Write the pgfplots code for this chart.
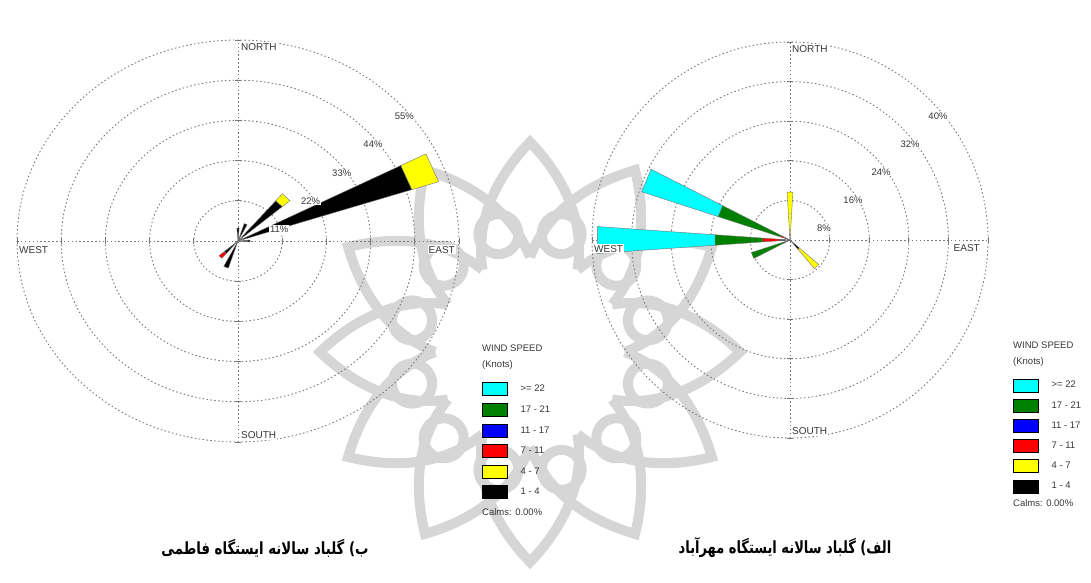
\documentclass[border=0pt]{standalone}
\usepackage{pgfplots}
\pgfplotsset{compat=1.18}
\usepackage{fontspec}
\setmainfont{Liberation Sans}
\newfontfamily\fafont[Script=Arabic]{DejaVu Sans}
\TeXXeTstate=1

% speed classes (knots)
\definecolor{ws22}{RGB}{0,255,255}
\definecolor{ws17}{RGB}{0,128,0}
\definecolor{ws11}{RGB}{0,0,255}
\definecolor{ws7}{RGB}{255,0,0}
\definecolor{ws4}{RGB}{255,255,0}
\definecolor{ws1}{RGB}{0,0,0}
\definecolor{ringgray}{RGB}{120,120,120}
\definecolor{labgray}{RGB}{55,55,55}
\definecolor{markgray}{RGB}{214,214,214}

\newcommand\smallfont{\fontsize{9.5}{11}\selectfont}

\tikzset{
  ring/.style={ringgray, line width=0.9pt, dash pattern=on 1.5pt off 2.4pt},
  ringlab/.style={fill=white, inner sep=0.8pt, font=\smallfont, text=labgray},
  compass/.style={fill=white, inner sep=1pt, font=\fontsize{10}{12}\selectfont, text=labgray},
}
\pgfplotsset{
  rose/.style={
    hide axis, clip=false, scale only axis, anchor=origin,
    legend image code/.code={\draw[##1,draw=black,line width=0.6pt] (0pt,-6.5pt) rectangle (25pt,6.5pt);},
    legend cell align=left,
    legend style={draw=none, fill=none, inner sep=0pt, outer sep=0pt,
      column sep=13pt, row sep=7pt, font=\smallfont, text=labgray,
      nodes={inner sep=0pt, outer sep=0pt}},
  },
  seg/.style={data cs=polar, fill=#1, draw=black!55, line width=0.4pt, forget plot},
}

\begin{document}
\begin{tikzpicture}[x=1pt,y=1pt]
\path[use as bounding box] (0,0) rectangle (1091,582);

% background rosette emblem
\begin{scope}[shift={(530,230)}, markgray, line width=10pt]
  \foreach \a in {90,120,...,420} {
    \draw (\a-30:95) .. controls (\a-22:150) and (\a-8:185) .. (\a:210)
                     .. controls (\a+8:185) and (\a+22:150) .. (\a+30:95);
  }
  \foreach \a in {105,135,...,435} {
    \draw (\a:122) circle (20);
  }
\end{scope}

% ---------------- Fatemi station ----------------
\begin{axis}[rose, x=4.018pt, y=3.655pt, xmin=-58, xmax=58, ymin=-58, ymax=58,
  at={(238pt,341pt)},
  legend style={at={(1.0235,0.1663)}, anchor=north west}]
  % grid
  \pgfplotsinvokeforeach{11,22,33,44,55}{
    \draw[ring] (axis cs:0,0) ellipse [x radius=#1, y radius=#1];
    \draw[ringgray, line width=0.7pt] (axis cs:#1,-0.9) -- (axis cs:#1,0.9);
    \draw[ringgray, line width=0.7pt] (axis cs:-#1,-0.9) -- (axis cs:-#1,0.9);
    \draw[ringgray, line width=0.7pt] (axis cs:-0.8,#1) -- (axis cs:0.8,#1);
    \draw[ringgray, line width=0.7pt] (axis cs:-0.8,-#1) -- (axis cs:0.8,-#1);
  }
  \draw[ring] (axis cs:-55,0) -- (axis cs:55,0);
  \draw[ring] (axis cs:0,-55) -- (axis cs:0,55);

  % petals: (math angle, percent)
  % ENE
  \addplot[seg=ws1] coordinates {(18,0) (27,0) (27,45.5) (18,45.5)} -- cycle;
  \addplot[seg=ws4] coordinates {(18,45.5) (27,45.5) (27,52.5) (18,52.5)} -- cycle;
  % NE
  \addplot[seg=ws1] coordinates {(40.5,0) (49.5,0) (49.5,14.5) (40.5,14.5)} -- cycle;
  \addplot[seg=ws4] coordinates {(40.5,14.5) (49.5,14.5) (49.5,17) (40.5,17)} -- cycle;
  % NNE
  \addplot[seg=ws1] coordinates {(63,0) (72,0) (72,5) (63,5)} -- cycle;
  % N
  \addplot[seg=ws1] coordinates {(85.5,0) (94.5,0) (94.5,3.5) (85.5,3.5)} -- cycle;
  % E
  \addplot[seg=ws1] coordinates {(-4.5,0) (4.5,0) (4.5,3) (-4.5,3)} -- cycle;
  % SW
  \addplot[seg=ws1] coordinates {(-139.5,0) (-130.5,0) (-130.5,4.5) (-139.5,4.5)} -- cycle;
  \addplot[seg=ws7] coordinates {(-139.5,4.5) (-130.5,4.5) (-130.5,6.2) (-139.5,6.2)} -- cycle;
  % SSW
  \addplot[seg=ws1] coordinates {(-117,0) (-108,0) (-108,7.8) (-117,7.8)} -- cycle;

  % ring labels
  \node[ringlab, xshift=10pt, yshift=-17pt] at (axis cs:7.78,7.78) {11\%};
  \node[ringlab, xshift=10pt, yshift=-17pt] at (axis cs:15.56,15.56) {22\%};
  \node[ringlab, xshift=10pt, yshift=-17pt] at (axis cs:23.33,23.33) {33\%};
  \node[ringlab, xshift=10pt, yshift=-17pt] at (axis cs:31.11,31.11) {44\%};
  \node[ringlab, xshift=10pt, yshift=-17pt] at (axis cs:38.89,38.89) {55\%};

  \node[compass, anchor=north west, xshift=2pt, yshift=-2pt] at (axis cs:0,55) {NORTH};
  \node[compass, anchor=south west, xshift=2pt, yshift=2pt] at (axis cs:0,-55) {SOUTH};
  \node[compass, anchor=north west, xshift=1pt, yshift=-4pt] at (axis cs:-55,0) {WEST};
  \node[compass, anchor=north east, xshift=-3pt, yshift=-4pt] at (axis cs:55,0) {EAST};

  \addlegendimage{fill=ws22}\addlegendentry{>= 22}
  \addlegendimage{fill=ws17}\addlegendentry{17 - 21}
  \addlegendimage{fill=ws11}\addlegendentry{11 - 17}
  \addlegendimage{fill=ws7}\addlegendentry{7 - 11}
  \addlegendimage{fill=ws4}\addlegendentry{4 - 7}
  \addlegendimage{fill=ws1}\addlegendentry{1 - 4}
\end{axis}

% ---------------- Mehrabad station ----------------
\begin{axis}[rose, x=4.95pt, y=4.95pt, xmin=-44, xmax=44, ymin=-44, ymax=44,
  at={(790pt,342pt)},
  legend style={at={(1.0119,0.182)}, anchor=north west, row sep=6.6pt}]
  \pgfplotsinvokeforeach{8,16,24,32,40}{
    \draw[ring] (axis cs:0,0) ellipse [x radius=#1, y radius=#1];
    \draw[ringgray, line width=0.7pt] (axis cs:#1,-0.7) -- (axis cs:#1,0.7);
    \draw[ringgray, line width=0.7pt] (axis cs:-#1,-0.7) -- (axis cs:-#1,0.7);
    \draw[ringgray, line width=0.7pt] (axis cs:-0.7,#1) -- (axis cs:0.7,#1);
    \draw[ringgray, line width=0.7pt] (axis cs:-0.7,-#1) -- (axis cs:0.7,-#1);
  }
  \draw[ring] (axis cs:-40,0) -- (axis cs:40,0);
  \draw[ring] (axis cs:0,-40) -- (axis cs:0,40);

  % WNW
  \addplot[seg=ws1] coordinates {(153,0) (162,0) (162,1) (153,1)} -- cycle;
  \addplot[seg=ws7] coordinates {(153,1) (162,1) (162,2) (153,2)} -- cycle;
  \addplot[seg=ws17] coordinates {(153,2) (162,2) (162,15.3) (153,15.3)} -- cycle;
  \addplot[seg=ws22] coordinates {(153,15.3) (162,15.3) (162,31.5) (153,31.5)} -- cycle;
  % W
  \addplot[seg=ws1] coordinates {(176,0) (184,0) (184,2.2) (176,2.2)} -- cycle;
  \addplot[seg=ws7] coordinates {(176,2.2) (184,2.2) (184,5.5) (176,5.5)} -- cycle;
  \addplot[seg=ws17] coordinates {(176,5.5) (184,5.5) (184,15.2) (176,15.2)} -- cycle;
  \addplot[seg=ws22] coordinates {(176,15.2) (184,15.2) (184,39) (176,39)} -- cycle;
  % WSW
  \addplot[seg=ws1] coordinates {(-162,0) (-153,0) (-153,1.5) (-162,1.5)} -- cycle;
  \addplot[seg=ws17] coordinates {(-162,1.5) (-153,1.5) (-153,8.2) (-162,8.2)} -- cycle;
  % N
  \addplot[seg=ws1] coordinates {(86.5,0) (93.5,0) (93.5,1) (86.5,1)} -- cycle;
  \addplot[seg=ws4] coordinates {(86.5,1) (93.5,1) (93.5,9.7) (86.5,9.7)} -- cycle;
  % SE
  \addplot[seg=ws1] coordinates {(-49.5,0) (-40.5,0) (-40.5,2.5) (-49.5,2.5)} -- cycle;
  \addplot[seg=ws4] coordinates {(-49.5,2.5) (-40.5,2.5) (-40.5,7.6) (-49.5,7.6)} -- cycle;

  \node[ringlab, xshift=6pt, yshift=-16pt] at (axis cs:5.66,5.66) {8\%};
  \node[ringlab, xshift=7pt, yshift=-16pt] at (axis cs:11.31,11.31) {16\%};
  \node[ringlab, xshift=7pt, yshift=-16pt] at (axis cs:16.97,16.97) {24\%};
  \node[ringlab, xshift=8pt, yshift=-16pt] at (axis cs:22.63,22.63) {32\%};
  \node[ringlab, xshift=8pt, yshift=-16pt] at (axis cs:28.28,28.28) {40\%};

  \node[compass, anchor=north west, xshift=1pt, yshift=-2pt] at (axis cs:0,40) {NORTH};
  \node[compass, anchor=south west, xshift=1pt, yshift=2pt] at (axis cs:0,-40) {SOUTH};
  \node[compass, anchor=north west, xshift=1pt, yshift=-4pt] at (axis cs:-40,0) {WEST};
  \node[compass, anchor=north east, xshift=-7pt, yshift=-3pt] at (axis cs:40,0) {EAST};

  \addlegendimage{fill=ws22}\addlegendentry{>= 22}
  \addlegendimage{fill=ws17}\addlegendentry{17 - 21}
  \addlegendimage{fill=ws11}\addlegendentry{11 - 17}
  \addlegendimage{fill=ws7}\addlegendentry{7 - 11}
  \addlegendimage{fill=ws4}\addlegendentry{4 - 7}
  \addlegendimage{fill=ws1}\addlegendentry{1 - 4}
\end{axis}

% legend headings and calms
\begin{scope}[every node/.style={anchor=west, inner sep=0pt, font=\smallfont, text=labgray}]
  \node at (482,234) {WIND SPEED};
  \node at (482,217) {(Knots)};
  \node at (482,70) {Calms: 0.00\%};
  \node at (1013,237) {WIND SPEED};
  \node at (1013,220) {(Knots)};
  \node at (1013,79) {Calms: 0.00\%};
\end{scope}

% captions
\node[font=\fafont\bfseries\fontsize{14}{17}\selectfont] at (265,34)
  {\scalebox{0.95}[1.2]{\beginR ب) گلباد سالانه ایستگاه فاطمی\endR}};
\node[font=\fafont\bfseries\fontsize{14}{17}\selectfont] at (785,34)
  {\scalebox{0.93}[1.2]{\beginR الف) گلباد سالانه ایستگاه مهرآباد\endR}};
\end{tikzpicture}
\end{document}
